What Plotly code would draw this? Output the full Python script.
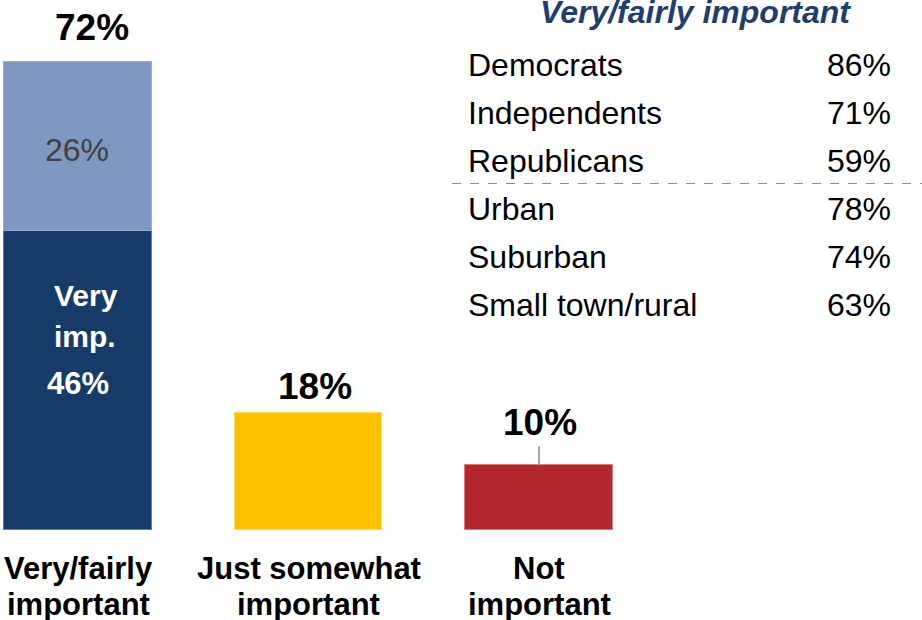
import plotly.graph_objects as go

# Share saying the issue is important
categories = ["Very/fairly important", "Just somewhat important", "Not important"]
cat_lines = [["Very/fairly", "important"], ["Just somewhat", "important"], ["Not", "important"]]
very_important = 46
fairly_important = 26
base_values = [very_important, 18, 10]
bar_colors = ["#163B69", "#FFC000", "#B3282D"]
edge_colors = ["#5E7FAA", "#FFD966", "#D9787B"]

# Breakdown of "very/fairly important" by group
table_title = "Very/fairly important"
groups = ["Democrats", "Independents", "Republicans", "Urban", "Suburban", "Small town/rural"]
group_values = [86, 71, 59, 78, 74, 63]

W, H = 922, 620
FONT = "Liberation Sans, Arial, sans-serif"


def py(px):
    """Pixel row -> paper y."""
    return 1 - px / H


def pxx(px):
    return px / W


fig = go.Figure()

# Bottom segments (very important / somewhat / not)
fig.add_trace(go.Bar(
    x=categories, y=base_values, width=0.642,
    marker=dict(color=bar_colors, line=dict(color=edge_colors, width=1)),
    hoverinfo="skip",
))
# Top segment on the first bar (fairly important)
fig.add_trace(go.Bar(
    x=[categories[0]], y=[fairly_important], width=0.642,
    marker=dict(color="#7F98C0", line=dict(color="#9AAED0", width=1)),
    hoverinfo="skip",
))

annotations = []
totals = [very_important + fairly_important] + base_values[1:]
total_yshift = [35, 26, 42]
total_xshift = [14, 6, 1]
for cat, tot, ys, xs in zip(categories, totals, total_yshift, total_xshift):
    annotations.append(dict(
        x=cat, y=tot, xref="x", yref="y", text=f"<b>{tot}%</b>", showarrow=False,
        xanchor="center", yanchor="middle", yshift=ys, xshift=xs,
        font=dict(family=FONT, size=37, color="#000000"),
    ))

# Leader line for the small bar label
fig.add_shape(type="line", xref="x", yref="y", x0=categories[2], x1=categories[2],
              y0=base_values[2], y1=base_values[2] + 2.9,
              line=dict(color="#A6A6A6", width=2))

# Labels inside the stacked bar
annotations.append(dict(
    x=categories[0], y=very_important + fairly_important / 2, xref="x", yref="y",
    text=f"{fairly_important}%", showarrow=False, xanchor="center", yanchor="middle",
    yshift=-3, xshift=-1, font=dict(family=FONT, size=32, color="#404040"),
))
annotations.append(dict(
    x=categories[0], y=36.0, xref="x", yref="y",
    text="<b>Very</b>", showarrow=False, xanchor="center", yanchor="middle", xshift=8,
    font=dict(family=FONT, size=30, color="#FFFFFF"),
))
annotations.append(dict(
    x=categories[0], y=29.8, xref="x", yref="y",
    text="<b>imp.</b>", showarrow=False, xanchor="center", yanchor="middle", xshift=7,
    font=dict(family=FONT, size=30, color="#FFFFFF"),
))
annotations.append(dict(
    x=categories[0], y=22.6, xref="x", yref="y",
    text=f"<b>{very_important}%</b>", showarrow=False, xanchor="center", yanchor="middle",
    font=dict(family=FONT, size=31, color="#FFFFFF"),
))

# Category labels under the bars
for cat, lines in zip(categories, cat_lines):
    for i, line in enumerate(lines):
        annotations.append(dict(
            x=cat, y=py(568 + 36 * i), xref="x", yref="paper",
            text=f"<b>{line}</b>", showarrow=False, xanchor="center", yanchor="middle",
            font=dict(family=FONT, size=31, color="#000000"),
        ))

# Group table
annotations.append(dict(
    x=pxx(695), y=py(12), xref="paper", yref="paper",
    text=f"<b><i>{table_title}</i></b>", showarrow=False, xanchor="center", yanchor="middle",
    font=dict(family=FONT, size=32, color="#1F3D6E"),
))
for i, (g, v) in enumerate(zip(groups, group_values)):
    yy = py(65 + 48 * i)
    annotations.append(dict(
        x=pxx(466), y=yy, xref="paper", yref="paper", text=g, showarrow=False,
        xanchor="left", yanchor="middle", font=dict(family=FONT, size=32, color="#000000"),
    ))
    annotations.append(dict(
        x=pxx(893), y=yy, xref="paper", yref="paper", text=f"{v}%", showarrow=False,
        xanchor="right", yanchor="middle", font=dict(family=FONT, size=32, color="#000000"),
    ))

fig.add_shape(type="line", xref="paper", yref="paper", x0=pxx(452), x1=1,
              y0=py(183.5), y1=py(183.5), line=dict(color="#8C8C8C", width=1, dash="dash"))

fig.update_layout(
    width=W, height=H, margin=dict(l=0, r=0, t=0, b=0),
    paper_bgcolor="white", plot_bgcolor="white",
    barmode="stack", showlegend=False, bargap=0,
    annotations=annotations,
    xaxis=dict(visible=False, range=[-0.3384, 3.6616]),
    yaxis=dict(visible=False, range=[-13.85, 81.54]),
)

fig.write_html("out.html")
